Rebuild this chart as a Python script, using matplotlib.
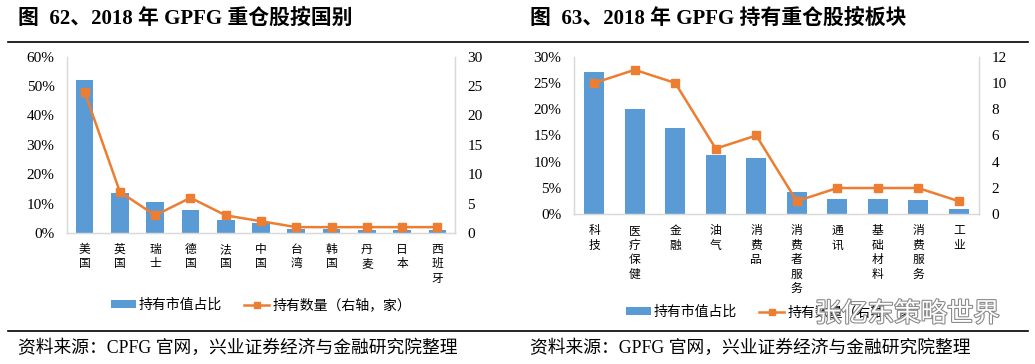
import matplotlib
matplotlib.use("Agg")
import matplotlib.pyplot as plt
from matplotlib.lines import Line2D
from matplotlib.patches import Patch
import matplotlib.patheffects as pe

plt.rcParams['font.family'] = ['Noto Sans CJK SC', 'DejaVu Sans']

# ---- data ----
countries = ['美国', '英国', '瑞士', '德国', '法国', '中国', '台湾', '韩国', '丹麦', '日本', '西班牙']
country_share = [52.2, 13.5, 10.5, 7.8, 4.4, 3.4, 1.5, 1.5, 1.0, 1.0, 1.0]
country_count = [24, 7, 3, 6, 3, 2, 1, 1, 1, 1, 1]

sectors = ['科技', '医疗保健', '金融', '油气', '消费品', '消费者服务', '通讯', '基础材料', '消费服务', '工业']
sector_share = [27.0, 20.0, 16.4, 11.2, 10.7, 4.2, 2.9, 2.9, 2.7, 1.1]
sector_count = [10, 11, 10, 5, 6, 1, 2, 2, 2, 1]

left_ticks = [0, 10, 20, 30, 40, 50, 60]
left_rticks = [0, 5, 10, 15, 20, 25, 30]
right_ticks = [0, 5, 10, 15, 20, 25, 30]
right_rticks = [0, 2, 4, 6, 8, 10, 12]

title1 = '图  62、2018 年 GPFG 重仓股按国别'
title2 = '图  63、2018 年 GPFG 持有重仓股按板块'
source1 = '资料来源：CPFG 官网，兴业证券经济与金融研究院整理'
source2 = '资料来源：GPFG 官网，兴业证券经济与金融研究院整理'
legend_bar = '持有市值占比'
legend_line = '持有数量（右轴，家）'
watermark = '张亿东策略世界'

BLUE = '#5B9BD5'
ORANGE = '#ED7D31'
GRID = '#D9D9D9'
W, H = 1035, 364
serif = ['Liberation Serif', 'Noto Sans CJK SC']

fig = plt.figure(figsize=(W / 100, H / 100), dpi=100)


def rect(x0, y0, x1, y1):
    return [x0 / W, 1 - y1 / H, (x1 - x0) / W, (y1 - y0) / H]


def panel(r, cats, share, count, lticks, rticks, legend_center):
    ax = fig.add_axes(r)
    x = list(range(len(cats)))
    ax.bar(x, share, width=0.5, color=BLUE, zorder=2)
    ax.set_xlim(-0.5, len(cats) - 0.5)
    ax.set_ylim(lticks[0], lticks[-1])
    ax.set_yticks(lticks)
    ax.set_yticklabels([f'{t}%' for t in lticks], family=serif, fontsize=11)
    ax.set_xticks(x)
    ax.set_xticklabels(['\n'.join(c) for c in cats], fontsize=8.5, va='top', linespacing=1.15)
    ax.tick_params(axis='x', length=0, pad=7)
    ax.tick_params(axis='y', length=0, pad=9)
    ax.spines['top'].set_visible(False)
    for s in ['left', 'bottom', 'right']:
        ax.spines[s].set_color(GRID)
        ax.spines[s].set_linewidth(1.0)
    ax2 = ax.twinx()
    ax2.plot(x, count, color=ORANGE, lw=1.8, marker='s', ms=6, zorder=3)
    ax2.set_ylim(rticks[0], rticks[-1])
    ax2.set_yticks(rticks)
    ax2.set_yticklabels([str(t) for t in rticks], family=serif, fontsize=11)
    ax2.tick_params(axis='y', length=0, pad=9)
    ax2.spines['top'].set_visible(False)
    for s in ['left', 'bottom', 'right']:
        ax2.spines[s].set_color(GRID)
    handles = [Patch(facecolor=BLUE, edgecolor='none'),
               Line2D([], [], color=ORANGE, lw=1.8, marker='s', ms=5)]
    fig.legend(handles, [legend_bar, legend_line], loc='center',
               bbox_to_anchor=(legend_center[0] / W, 1 - legend_center[1] / H),
               ncol=2, frameon=False, fontsize=10, handlelength=1.8,
               handleheight=0.45, columnspacing=1.6, handletextpad=0.2)
    return ax, ax2


panel(rect(67, 56.7, 455, 233), countries, country_share, country_count,
      left_ticks, left_rticks, (261, 305))
panel(rect(574, 56.7, 979, 214.3), sectors, sector_share, sector_count,
      right_ticks, right_rticks, (776, 312))

# titles
fig.text(18 / W, 1 - 19 / H, title1, family=serif, fontsize=15, fontweight='bold', va='center', ha='left')
fig.text(530 / W, 1 - 19 / H, title2, family=serif, fontsize=15, fontweight='bold', va='center', ha='left')

# horizontal rules
fig.add_artist(Line2D([8 / W, 1028 / W], [1 - 42 / H, 1 - 42 / H], color='black', lw=1.2))
fig.add_artist(Line2D([8 / W, 1028 / W], [1 - 331 / H, 1 - 331 / H], color='black', lw=1.2))

# sources
fig.text(18 / W, 1 - 348 / H, source1, family=serif, fontsize=12.8, va='center', ha='left')
fig.text(530 / W, 1 - 348 / H, source2, family=serif, fontsize=12.8, va='center', ha='left')

# watermark (overlays the legend, as in the reference)
wm = fig.text(815 / W, 1 - 314 / H, watermark, fontsize=19, color='white', va='center', ha='left',
              zorder=10)
wm.set_path_effects([pe.withStroke(linewidth=1.6, foreground='#8a8a8a')])

fig.savefig('out.png', dpi=100)
